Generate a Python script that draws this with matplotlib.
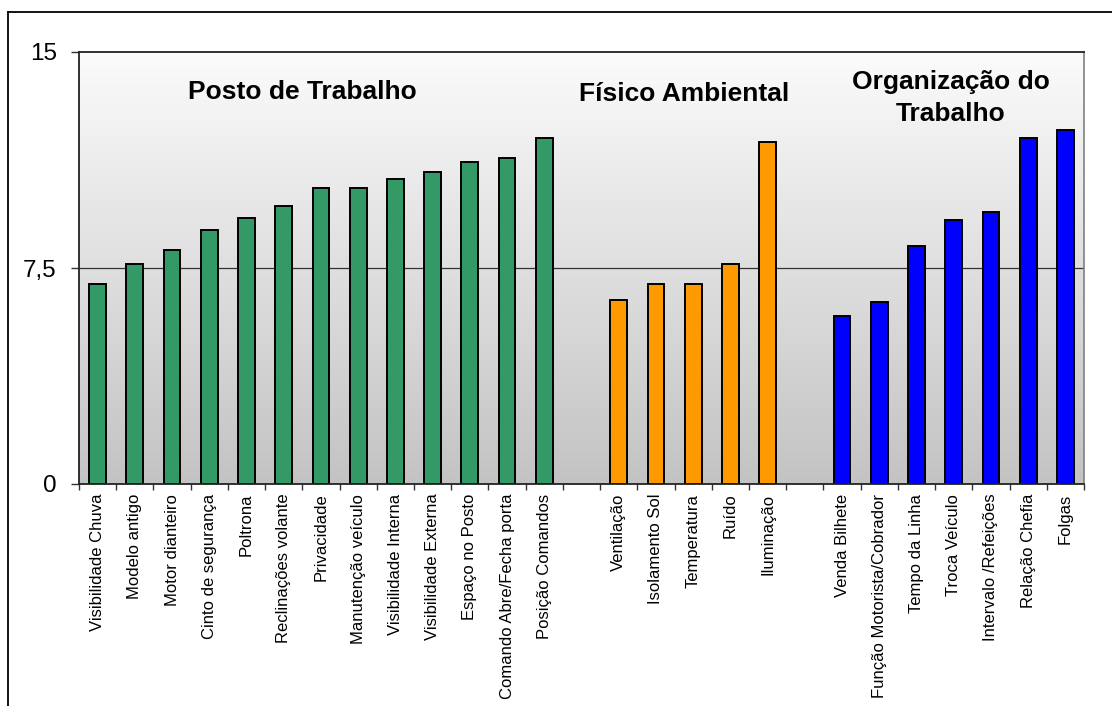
import numpy as np
import matplotlib
matplotlib.use('Agg')
import matplotlib.pyplot as plt
from matplotlib.colors import LinearSegmentedColormap
from matplotlib.lines import Line2D

plt.rcParams['font.family'] = ['Liberation Sans', 'DejaVu Sans']

# DATA
posto_labels = ['Visibilidade Chuva', 'Modelo antigo', 'Motor dianteiro', 'Cinto de segurança',
                'Poltrona', 'Reclinações volante', 'Privacidade', 'Manutenção veículo',
                'Visibilidade Interna', 'Visibilidade Externa', 'Espaço no Posto',
                'Comando Abre/Fecha porta', 'Posição Comandos']
posto_values = [6.95, 7.64, 8.12, 8.82, 9.24, 9.65, 10.28, 10.28, 10.6, 10.83, 11.18, 11.32, 12.0]

fisico_labels = ['Ventilação', 'Isolamento Sol', 'Temperatura', 'Ruído', 'Iluminação']
fisico_values = [6.39, 6.96, 6.96, 7.64, 11.86]

org_labels = ['Venda Bilhete', 'Função Motorista/Cobrador', 'Tempo da Linha', 'Troca Veículo',
              'Intervalo /Refeições', 'Relação Chefia', 'Folgas']
org_values = [5.83, 6.32, 8.26, 9.17, 9.44, 12.0, 12.28]

group_titles = ['Posto de Trabalho', 'Físico Ambiental', 'Organização do\nTrabalho']
y_ticks = [0, 7.5, 15]
y_ticklabels = ['0', '7,5', '15']

GREEN = '#339966'
ORANGE = '#FF9900'
BLUE = '#0000FF'


def main() -> None:
    fig = plt.figure(figsize=(11.12, 7.06), dpi=100)
    ax = fig.add_axes([79 / 1112, 1 - 484 / 706, 1005 / 1112, 432 / 706])

    # positions: one empty slot between groups
    x_posto = np.arange(len(posto_labels))
    x_fisico = np.arange(len(fisico_labels)) + len(posto_labels) + 1
    x_org = np.arange(len(org_labels)) + x_fisico[-1] + 2
    n_slots = x_org[-1] + 1

    # gradient background
    cmap = LinearSegmentedColormap.from_list('bg', ['#c3c3c3', '#fbfbfb'])
    grad = np.linspace(0, 1, 256).reshape(-1, 1)
    ax.imshow(grad, extent=[-0.5, n_slots - 0.5, 0, 15], origin='lower',
              aspect='auto', cmap=cmap, zorder=0)

    ax.axhline(7.5, color='#333333', lw=0.9, zorder=1)

    w = 0.45
    for xs, vals, col in [(x_posto, posto_values, GREEN),
                          (x_fisico, fisico_values, ORANGE),
                          (x_org, org_values, BLUE)]:
        ax.bar(xs, vals, width=w, color=col, edgecolor='black', linewidth=1.4, zorder=2)

    ax.set_xlim(-0.5, n_slots - 0.5)
    ax.set_ylim(0, 15)

    # x ticks
    labels = [''] * n_slots
    for xs, labs in [(x_posto, posto_labels), (x_fisico, fisico_labels), (x_org, org_labels)]:
        for x, l in zip(xs, labs):
            labels[x] = l
    ax.set_xticks(np.arange(n_slots))
    ax.set_xticklabels(labels, rotation=90, fontsize=12, va='top', ha='center')
    ax.set_xticks(np.arange(n_slots + 1) - 0.5, minor=True)
    ax.tick_params(axis='x', which='major', length=0, pad=7)
    ax.tick_params(axis='x', which='minor', length=4, width=1, direction='out', color='#333333')

    ax.set_yticks(y_ticks)
    ax.set_yticklabels(y_ticklabels, fontsize=17.5)
    ax.tick_params(axis='y', length=6, width=1, direction='out', pad=10, color='#333333')

    for side in ['left', 'top', 'bottom']:
        ax.spines[side].set_color('#222222')
        ax.spines[side].set_linewidth(1.3)
    ax.spines['right'].set_color('#808080')
    ax.spines['right'].set_linewidth(1.2)

    title_kw = dict(fontsize=19, fontweight='bold', ha='center', va='center', zorder=3)
    ax.text(5.49, 13.6, group_titles[0], **title_kw)
    ax.text(15.75, 13.54, group_titles[1], **title_kw)
    ax.text(22.93, 13.4, group_titles[2], linespacing=1.4, **title_kw)

    # outer frame (runs off the right and bottom of the picture)
    fig.add_artist(Line2D([8 / 1112, 1.0], [1 - 12 / 706] * 2, color='black', lw=1.3))
    fig.add_artist(Line2D([8 / 1112] * 2, [0, 1 - 12 / 706], color='black', lw=1.3))

    fig.savefig('out.png', dpi=100)


if __name__ == '__main__':
    main()
